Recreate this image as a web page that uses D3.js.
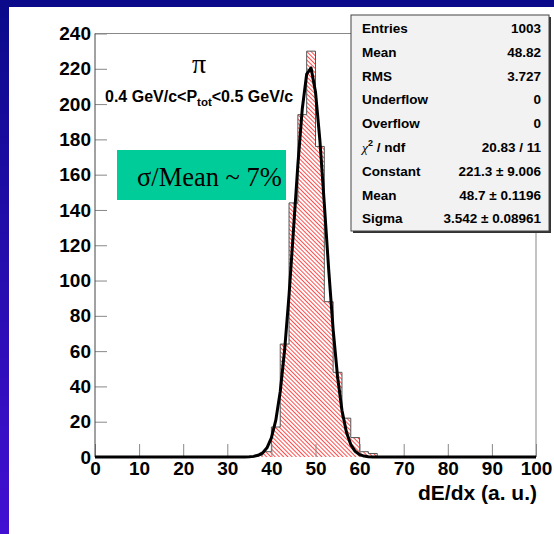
<!DOCTYPE html>
<html><head><meta charset="utf-8">
<script src="https://cdn.jsdelivr.net/npm/d3@7"></script>
<style>body{margin:0;background:#fff}svg{display:block}</style>
</head><body>
<script>
// dE/dx histogram, bins of 2 a.u. (empty bins left out)
var binStart = [36, 38, 40, 42, 44, 46, 48, 50, 52, 54, 56, 58, 60, 62];
var counts   = [1, 3, 17, 64, 144, 194, 230, 176, 88, 48, 22, 11, 3, 2];
var binWidth = 2;

// gaussian fit parameters (from the stat box)
var fitConst = 221.3, fitMean = 48.7, fitSigma = 3.542;

var xTicks = [0, 10, 20, 30, 40, 50, 60, 70, 80, 90, 100];
var yTicks = [0, 20, 40, 60, 80, 100, 120, 140, 160, 180, 200, 220, 240];

var statLabels = ["Entries", "Mean", "RMS", "Underflow", "Overflow", "chi2", "Constant", "Mean", "Sigma"];
var statValues = ["1003", "48.82", "3.727", "0", "0", "20.83 / 11",
                  "221.3 \u00b1 9.006", "48.7 \u00b1 0.1196", "3.542 \u00b1 0.08961"];

var W = 554, H = 534;
var svg = d3.select("body").append("svg").attr("width", W).attr("height", H);

var defs = svg.append("defs");
var grad = defs.append("linearGradient").attr("id", "side")
  .attr("x1", 0).attr("y1", 0).attr("x2", 0).attr("y2", 1);
grad.append("stop").attr("offset", "0%").attr("stop-color", "#0a0a8a");
grad.append("stop").attr("offset", "100%").attr("stop-color", "#4210d2");

var hatch = defs.append("pattern").attr("id", "hatch")
  .attr("patternUnits", "userSpaceOnUse")
  .attr("width", 3).attr("height", 3)
  .attr("patternTransform", "rotate(-45)");
hatch.append("line").attr("x1", 0.5).attr("y1", 0).attr("x2", 0.5).attr("y2", 3)
  .attr("stroke", "#ff2020").attr("stroke-width", 0.8);

// slide frame
svg.append("rect").attr("width", W).attr("height", H).attr("fill", "#fff");
svg.append("rect").attr("x", 0).attr("y", 0).attr("width", 9).attr("height", H).attr("fill", "url(#side)");
svg.append("rect").attr("x", 0).attr("y", 0).attr("width", W).attr("height", 7).attr("fill", "#0a0a8a");

var x = d3.scaleLinear().domain([0, 100]).range([95, 536]);
var y = d3.scaleLinear().domain([0, 240]).range([457, 33.5]);

// full bin list incl. empty bins
var bins = [];
for (var e = 0; e < 100; e += binWidth) {
  var k = binStart.indexOf(e);
  bins.push({ x: e, c: k < 0 ? 0 : counts[k] });
}
bins.push({ x: 100, c: 0 });

var area = d3.area().curve(d3.curveStepAfter)
  .x(function(d) { return x(d.x); })
  .y0(y(0)).y1(function(d) { return y(d.c); });
var line = d3.line().curve(d3.curveStepAfter)
  .x(function(d) { return x(d.x); })
  .y(function(d) { return y(d.c); });

svg.append("path").datum(bins).attr("d", area).attr("fill", "url(#hatch)");
svg.append("path").datum(bins).attr("d", line)
  .attr("fill", "none").attr("stroke", "#555").attr("stroke-width", 1);

// axes
var font = "'Liberation Sans', Arial, sans-serif";
var yAxis = svg.append("g").attr("transform", "translate(" + x(0) + ",0)")
  .call(d3.axisLeft(y).tickValues(yTicks).tickSize(-12).tickPadding(4));
var xAxis = svg.append("g").attr("transform", "translate(0," + y(0) + ")")
  .call(d3.axisBottom(x).tickValues(xTicks).tickSize(-13).tickPadding(5));
[xAxis, yAxis].forEach(function(g) {
  g.select(".domain").remove();
  g.selectAll(".tick line").attr("stroke", "#888");
  g.selectAll(".tick text").attr("fill", "#000")
    .style("font-family", font).style("font-weight", "bold").style("font-size", "19px");
});

// plot frame
svg.append("line").attr("x1", x(0)).attr("x2", x(100)).attr("y1", y(240)).attr("y2", y(240))
  .attr("stroke", "#888");
svg.append("line").attr("x1", x(100)).attr("x2", x(100)).attr("y1", y(240)).attr("y2", y(0))
  .attr("stroke", "#888");
svg.append("line").attr("x1", x(0)).attr("x2", x(0)).attr("y1", y(240)).attr("y2", y(0))
  .attr("stroke", "#444");

// fit curve
var fitPts = d3.range(0, 100.001, 1).map(function(v) {
  var t = (v - fitMean) / fitSigma;
  return [v, fitConst * Math.exp(-0.5 * t * t)];
});
svg.append("path").datum(fitPts)
  .attr("d", d3.line().x(function(d) { return x(d[0]); }).y(function(d) { return y(d[1]); }))
  .attr("fill", "none").attr("stroke", "#000").attr("stroke-width", 3)
  .attr("stroke-linejoin", "round");

svg.append("text").attr("x", x(100) + 1).attr("y", 500).attr("text-anchor", "end")
  .style("font-family", font).style("font-weight", "bold").style("font-size", "21px")
  .text("dE/dx (a. u.)");

// labels
svg.append("text").attr("x", 199).attr("y", 73).attr("text-anchor", "middle")
  .style("font-family", "'Liberation Serif', 'Times New Roman', serif").style("font-size", "28px")
  .text("\u03c0");

var sub = svg.append("text").attr("x", 105).attr("y", 102)
  .style("font-family", font).style("font-weight", "bold").style("font-size", "16px");
sub.append("tspan").text("0.4 GeV/c<P");
sub.append("tspan").attr("dy", 4).style("font-size", "11.5px").text("tot");
sub.append("tspan").attr("dy", -4).text("<0.5 GeV/c");

svg.append("rect").attr("x", 117).attr("y", 150).attr("width", 169).attr("height", 50)
  .attr("fill", "#00cc99");
svg.append("text").attr("x", 137).attr("y", 186)
  .style("font-family", "'Liberation Serif', 'Times New Roman', serif").style("font-size", "26.5px")
  .text("\u03c3/Mean ~ 7%");

// stat box
var bx = 351, by = 15, bw = 198, bh = 216;
svg.append("rect").attr("x", bx + 2).attr("y", by + 2).attr("width", bw).attr("height", bh).attr("fill", "#333");
svg.append("rect").attr("x", bx).attr("y", by).attr("width", bw).attr("height", bh)
  .attr("fill", "#f2f2f2").attr("stroke", "#444").attr("stroke-width", 1);

var rowH = 23.8;
statLabels.forEach(function(lab, i) {
  var yy = 33 + i * rowH;
  var t = svg.append("text").attr("x", 362).attr("y", yy)
    .style("font-family", font).style("font-weight", "bold").style("font-size", "13.5px");
  if (lab === "chi2") {
    t.append("tspan").style("font-family", "'Liberation Serif', serif").style("font-style", "italic")
      .style("font-weight", "normal").text("\u03c7");
    t.append("tspan").attr("dy", -6).style("font-size", "9px").text("2");
    t.append("tspan").attr("dy", 6).text(" / ndf");
  } else {
    t.text(lab);
  }
  svg.append("text").attr("x", 541).attr("y", yy).attr("text-anchor", "end")
    .style("font-family", font).style("font-weight", "bold").style("font-size", "13.5px")
    .text(statValues[i]);
});
</script>
</body></html>
